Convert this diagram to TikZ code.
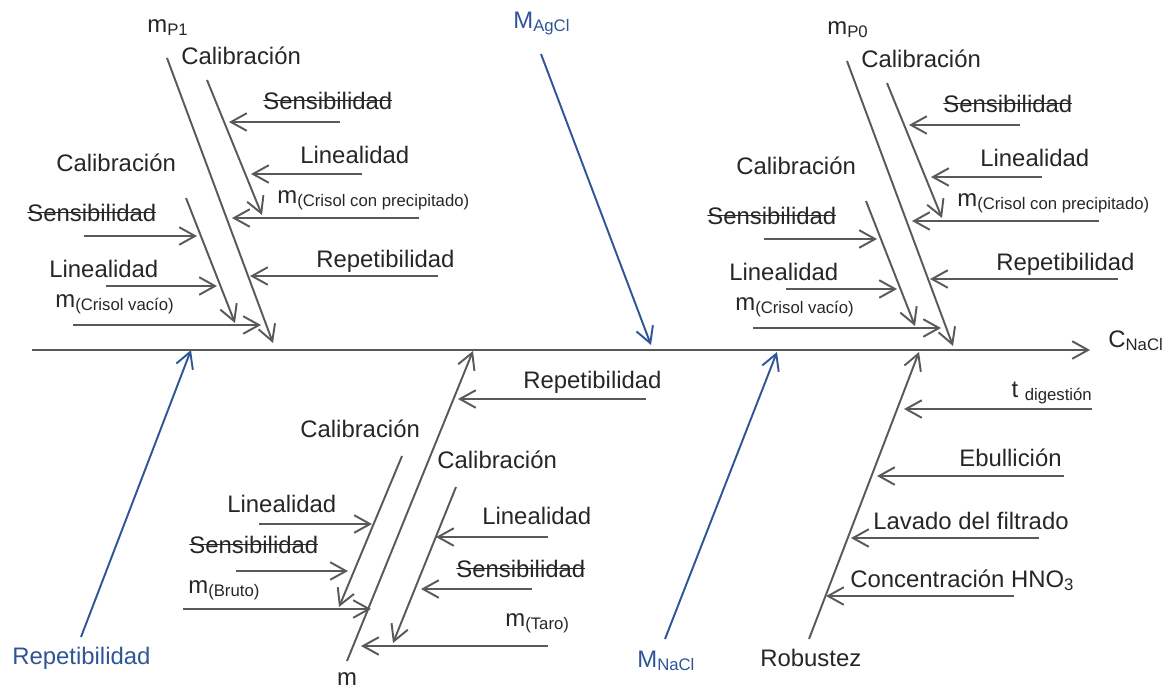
\documentclass[tikz,border=0pt]{standalone}
\usepackage{fontspec}
\setmainfont{Liberation Sans}
\usepackage{tikz}
\usetikzlibrary{arrows.meta}
\definecolor{txtgray}{HTML}{262626}
\definecolor{linegray}{HTML}{595959}
\definecolor{fishblue}{HTML}{2F5597}

\begin{document}
\begin{tikzpicture}[
    x=0.02cm, y=-0.02cm,
    every node/.style={font=\fontsize{13.6}{16}\selectfont, text=txtgray, inner sep=0pt},
    lbl/.style={anchor=base west},
    struck/.style={lbl, path picture={\draw[txtgray, line width=0.9pt] (path picture bounding box.west) -- (path picture bounding box.east);}},
    bone/.style={draw=linegray, line width=1.1pt, -{Straight Barb[length=9pt,width=10pt]}},
    bluebone/.style={bone, draw=fishblue},
    bluelbl/.style={lbl, text=fishblue}
]
    \useasboundingbox (0,0) rectangle (1162,690);

    % Spine
    \path (32,350) coordinate (spine) (1090,350) coordinate (spinet);
    \node[lbl] (cnacl) at (1108,347) {C\textsubscript{NaCl}};

    % Labels, m_P1 branch
    \node[lbl] (mP1) at (147,32) {m\textsubscript{P1}};
    \node[lbl] (calA) at (181,64) {Calibración};
    \node[struck] (senA) at (263,109) {Sensibilidad};
    \node[lbl] (linA) at (300,163) {Linealidad};
    \node[lbl] (mccpA) at (277,203) {m\textsubscript{(Crisol con precipitado)}};
    \node[lbl] (repA) at (316,267) {Repetibilidad};
    \node[lbl] (calB) at (56,171) {Calibración};
    \node[struck] (senB) at (27,221) {Sensibilidad};
    \node[lbl] (linB) at (49,277) {Linealidad};
    \node[lbl] (mcvB) at (55,307) {m\textsubscript{(Crisol vacío)}};

    % Labels, m_P0 branch
    \node[lbl] (mP0) at (827,34) {m\textsubscript{P0}};
    \node[lbl] (calC) at (861,67) {Calibración};
    \node[struck] (senC) at (943,112) {Sensibilidad};
    \node[lbl] (linC) at (980,166) {Linealidad};
    \node[lbl] (mccpC) at (957,206) {m\textsubscript{(Crisol con precipitado)}};
    \node[lbl] (repC) at (996,270) {Repetibilidad};
    \node[lbl] (calD) at (736,174) {Calibración};
    \node[struck] (senD) at (707,224) {Sensibilidad};
    \node[lbl] (linD) at (729,280) {Linealidad};
    \node[lbl] (mcvD) at (735,310) {m\textsubscript{(Crisol vacío)}};

    % Labels, m branch
    \node[anchor=base] (m) at (347,685) {m};
    \node[lbl] (repE) at (523,388) {Repetibilidad};
    \node[lbl] (calE) at (300,437) {Calibración};
    \node[lbl] (linE) at (227,512) {Linealidad};
    \node[struck] (senE) at (189,553) {Sensibilidad};
    \node[lbl] (mbruto) at (188,593) {m\textsubscript{(Bruto)}};
    \node[lbl] (calF) at (437,468) {Calibración};
    \node[lbl] (linF) at (482,524) {Linealidad};
    \node[struck] (senF) at (456,577) {Sensibilidad};
    \node[lbl] (mtaro) at (505,626) {m\textsubscript{(Taro)}};

    % Labels, Robustez branch
    \node[lbl] (robustez) at (760,666) {Robustez};
    \node[anchor=base east] (tdig) at (1093,397) {t \textsubscript{digestión}};
    \node[lbl] (ebull) at (959,466) {Ebullición};
    \node[lbl] (lavado) at (873,529) {Lavado del filtrado};
    \node[lbl] (hno) at (850,587) {Concentración HNO\textsubscript{3}};

    % Blue labels
    \node[bluelbl] (magcl) at (513,28) {M\textsubscript{AgCl}};
    \node[bluelbl] (repblue) at (12,664) {Repetibilidad};
    \node[bluelbl] (mnacl) at (637,667) {M\textsubscript{NaCl}};

    % Arrow ends
    \path (167,58) coordinate (bA) (273,343) coordinate (bAt);
    \path (207,80) coordinate (cA) (262,215) coordinate (cAt);
    \path (340,122) coordinate (sA) (229,122) coordinate (sAt);
    \path (362,174) coordinate (lA) (251,174) coordinate (lAt);
    \path (419,218) coordinate (pA) (232,218) coordinate (pAt);
    \path (438,276) coordinate (rA) (250,276) coordinate (rAt);
    \path (186,198) coordinate (cB) (235,323) coordinate (cBt);
    \path (84,236) coordinate (sB) (197,236) coordinate (sBt);
    \path (106,286) coordinate (lB) (217,286) coordinate (lBt);
    \path (73,325) coordinate (vB) (261,325) coordinate (vBt);

    \path (847,61) coordinate (bC) (953,346) coordinate (bCt);
    \path (887,83) coordinate (cC) (942,218) coordinate (cCt);
    \path (1020,125) coordinate (sC) (909,125) coordinate (sCt);
    \path (1042,177) coordinate (lC) (931,177) coordinate (lCt);
    \path (1099,221) coordinate (pC) (912,221) coordinate (pCt);
    \path (1118,279) coordinate (rC) (930,279) coordinate (rCt);
    \path (866,201) coordinate (cD) (915,326) coordinate (cDt);
    \path (764,239) coordinate (sD) (877,239) coordinate (sDt);
    \path (786,289) coordinate (lD) (897,289) coordinate (lDt);
    \path (753,328) coordinate (vD) (941,328) coordinate (vDt);

    \path (347,661) coordinate (bE) (473,351) coordinate (bEt);
    \path (646,399) coordinate (rE) (458,399) coordinate (rEt);
    \path (402,456) coordinate (cE) (339,607) coordinate (cEt);
    \path (259,524) coordinate (lE) (372,524) coordinate (lEt);
    \path (236,571) coordinate (sE) (348,571) coordinate (sEt);
    \path (183,609) coordinate (uE) (371,609) coordinate (uEt);
    \path (456,487) coordinate (cF) (393,643) coordinate (cFt);
    \path (548,537) coordinate (lF) (436,537) coordinate (lFt);
    \path (532,589) coordinate (sF) (421,589) coordinate (sFt);
    \path (548,646) coordinate (tF) (361,646) coordinate (tFt);

    \path (809,639) coordinate (bG) (919,352) coordinate (bGt);
    \path (1092,409) coordinate (dG) (904,409) coordinate (dGt);
    \path (1064,476) coordinate (eG) (877,476) coordinate (eGt);
    \path (1039,538) coordinate (fG) (851,538) coordinate (fGt);
    \path (1014,596) coordinate (hG) (826,596) coordinate (hGt);

    \path (541,54) coordinate (ag) (651,345) coordinate (agt);
    \path (81,637) coordinate (rp) (191,350) coordinate (rpt);
    \path (665,639) coordinate (na) (777,352) coordinate (nat);

    % Arrows
    \draw[bone] (spine) -- (spinet);

    \draw[bone] (bA) -- (bAt);
    \draw[bone] (cA) -- (cAt);
    \draw[bone] (sA) -- (sAt);
    \draw[bone] (lA) -- (lAt);
    \draw[bone] (pA) -- (pAt);
    \draw[bone] (rA) -- (rAt);
    \draw[bone] (cB) -- (cBt);
    \draw[bone] (sB) -- (sBt);
    \draw[bone] (lB) -- (lBt);
    \draw[bone] (vB) -- (vBt);

    \draw[bone] (bC) -- (bCt);
    \draw[bone] (cC) -- (cCt);
    \draw[bone] (sC) -- (sCt);
    \draw[bone] (lC) -- (lCt);
    \draw[bone] (pC) -- (pCt);
    \draw[bone] (rC) -- (rCt);
    \draw[bone] (cD) -- (cDt);
    \draw[bone] (sD) -- (sDt);
    \draw[bone] (lD) -- (lDt);
    \draw[bone] (vD) -- (vDt);

    \draw[bone] (bE) -- (bEt);
    \draw[bone] (rE) -- (rEt);
    \draw[bone] (cE) -- (cEt);
    \draw[bone] (lE) -- (lEt);
    \draw[bone] (sE) -- (sEt);
    \draw[bone] (uE) -- (uEt);
    \draw[bone] (cF) -- (cFt);
    \draw[bone] (lF) -- (lFt);
    \draw[bone] (sF) -- (sFt);
    \draw[bone] (tF) -- (tFt);

    \draw[bone] (bG) -- (bGt);
    \draw[bone] (dG) -- (dGt);
    \draw[bone] (eG) -- (eGt);
    \draw[bone] (fG) -- (fGt);
    \draw[bone] (hG) -- (hGt);

    % Blue arrows
    \draw[bluebone] (ag) -- (agt);
    \draw[bluebone] (rp) -- (rpt);
    \draw[bluebone] (na) -- (nat);

\end{tikzpicture}
\end{document}
